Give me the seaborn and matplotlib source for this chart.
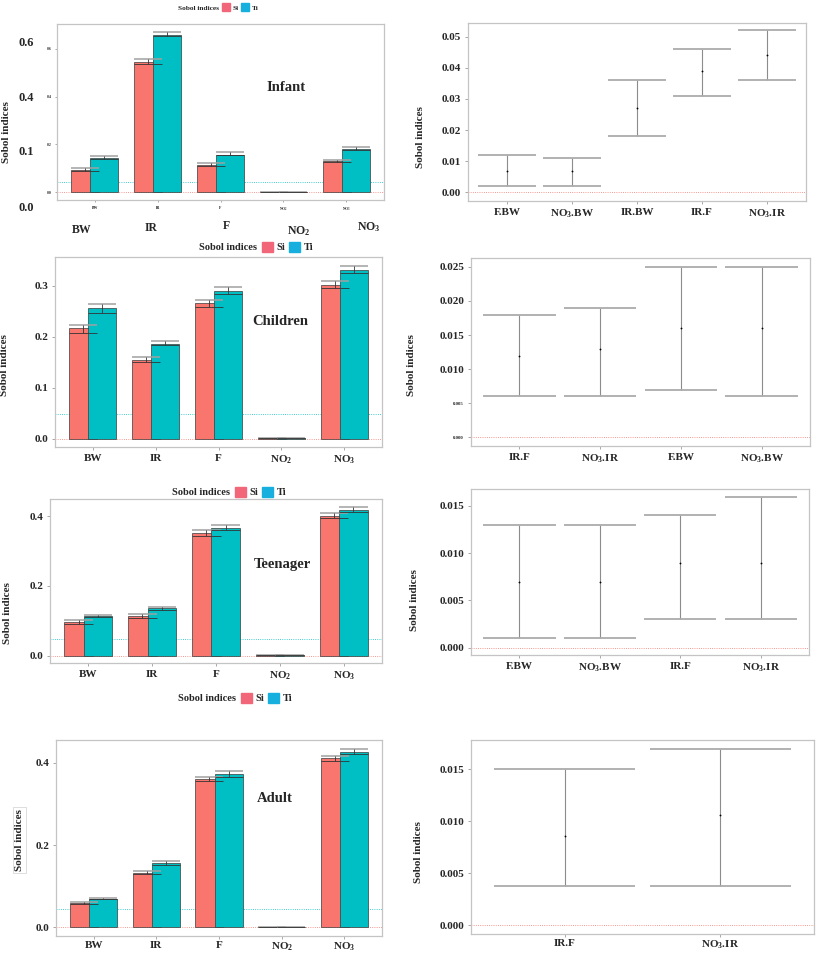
import numpy as np
import pandas as pd
import seaborn as sns
import matplotlib.pyplot as plt
from matplotlib.patches import Patch
import matplotlib.transforms as mtransforms

# ---- data ----
factors = ["BW", "IR", "F", "NO2", "NO3"]
factor_labels = ["BW", "IR", "F", "NO$_2$", "NO$_3$"]

infant_si = [0.092, 0.546, 0.113, 0.001, 0.130]
infant_si_lo = [0.089, 0.536, 0.110, 0.001, 0.125]
infant_si_hi = [0.099, 0.557, 0.121, 0.001, 0.136]
infant_ti = [0.141, 0.660, 0.157, 0.001, 0.180]
infant_ti_lo = [0.139, 0.654, 0.155, 0.001, 0.178]
infant_ti_hi = [0.150, 0.671, 0.167, 0.001, 0.189]

children_si = [0.216, 0.154, 0.265, 0.001, 0.302]
children_si_lo = [0.207, 0.150, 0.258, 0.001, 0.295]
children_si_hi = [0.222, 0.160, 0.271, 0.001, 0.308]
children_ti = [0.256, 0.186, 0.290, 0.001, 0.331]
children_ti_lo = [0.246, 0.183, 0.284, 0.001, 0.324]
children_ti_hi = [0.264, 0.192, 0.298, 0.001, 0.339]

teen_si = [0.096, 0.114, 0.351, 0.001, 0.401]
teen_si_lo = [0.091, 0.109, 0.344, 0.001, 0.394]
teen_si_hi = [0.102, 0.119, 0.359, 0.001, 0.408]
teen_ti = [0.113, 0.136, 0.366, 0.001, 0.418]
teen_ti_lo = [0.110, 0.132, 0.360, 0.001, 0.412]
teen_ti_hi = [0.117, 0.139, 0.374, 0.001, 0.425]

adult_si = [0.058, 0.133, 0.360, 0.001, 0.412]
adult_si_lo = [0.057, 0.130, 0.355, 0.001, 0.406]
adult_si_hi = [0.061, 0.137, 0.366, 0.001, 0.418]
adult_ti = [0.0695, 0.156, 0.373, 0.001, 0.427]
adult_ti_lo = [0.068, 0.152, 0.367, 0.001, 0.421]
adult_ti_hi = [0.071, 0.160, 0.381, 0.001, 0.434]

# dotted reference line in the bar panels
ref_lines = [0.042, 0.048, 0.049, 0.045]

# second-order indices (interaction pairs)
infant_pairs = ["F.BW", "NO$_3$.BW", "IR.BW", "IR.F", "NO$_3$.IR"]
infant_mid = [0.007, 0.007, 0.027, 0.039, 0.044]
infant_lo = [0.002, 0.002, 0.018, 0.031, 0.036]
infant_hi = [0.012, 0.011, 0.036, 0.046, 0.052]

children_pairs = ["IR.F", "NO$_3$.IR", "F.BW", "NO$_3$.BW"]
children_mid = [0.012, 0.013, 0.016, 0.016]
children_lo = [0.006, 0.006, 0.007, 0.006]
children_hi = [0.018, 0.019, 0.025, 0.025]

teen_pairs = ["F.BW", "NO$_3$.BW", "IR.F", "NO$_3$.IR"]
teen_mid = [0.007, 0.007, 0.009, 0.009]
teen_lo = [0.001, 0.001, 0.003, 0.003]
teen_hi = [0.013, 0.013, 0.014, 0.016]

adult_pairs = ["IR.F", "NO$_3$.IR"]
adult_mid = [0.0086, 0.0106]
adult_lo = [0.0038, 0.0038]
adult_hi = [0.015, 0.017]

# ---- style ----
sns.set_style("white")
plt.rcParams["font.family"] = ["Liberation Serif", "DejaVu Serif"]
plt.rcParams["font.weight"] = "bold"
plt.rcParams["axes.labelweight"] = "bold"
plt.rcParams["mathtext.fontset"] = "custom"
plt.rcParams["mathtext.rm"] = "Liberation Serif:bold"
plt.rcParams["mathtext.it"] = "Liberation Serif:bold"
plt.rcParams["mathtext.bf"] = "Liberation Serif:bold"

SI_COL, TI_COL = "#F8766D", "#00BFC4"
SI_LEG, TI_LEG = "#F2667A", "#17B0DE"
BAR_W = 0.447
W, H = 817, 955

fig = plt.figure(figsize=(W / 100, H / 100), dpi=100)


def add_axes(left, top, right, bottom):
    return fig.add_axes([left / W, 1 - bottom / H, (right - left) / W, (bottom - top) / H])


def style_axes(ax):
    for s in ax.spines.values():
        s.set_color("#c4c4c4")
        s.set_linewidth(0.9)
    ax.tick_params(axis="both", which="both", direction="out", length=2.5, width=0.6,
                   color="#9a9a9a", left=True, bottom=True, labelsize=8, pad=2.5)
    ax.set_xlabel("")


def place_ylabel(ax, px, py, **kw):
    ax.set_ylabel("Sobol indices", fontsize=8, fontweight="bold", **kw)
    ax.yaxis.set_label_coords(px / W, 1 - py / H, transform=fig.transFigure)


def legend_at(px, py, size):
    handles = [Patch(alpha=0), Patch(color=SI_LEG), Patch(color=TI_LEG)]
    fig.legend(handles, ["Sobol indices", "Si", "Ti"], ncol=3, loc="center",
               bbox_to_anchor=(px / W, 1 - py / H), frameon=False,
               prop={"size": size, "weight": "bold"}, handlelength=1.1, handleheight=1.1,
               handletextpad=0.3, columnspacing=0.4)


def bar_panel(ax, si, si_lo, si_hi, ti, ti_lo, ti_hi, ylim, ref, title, txy):
    df = pd.DataFrame({"factor": factors * 2,
                       "index": ["Si"] * len(factors) + ["Ti"] * len(factors),
                       "value": si + ti})
    sns.barplot(data=df, x="factor", y="value", hue="index", order=factors,
                hue_order=["Si", "Ti"], palette={"Si": SI_COL, "Ti": TI_COL},
                width=0.61, saturation=1, errorbar=None, legend=False,
                edgecolor="#3a3a3a", linewidth=0.5, ax=ax)
    for cont, lo, hi in zip(ax.containers, [si_lo, ti_lo], [si_hi, ti_hi]):
        for bar, l, h in zip(cont, lo, hi):
            cx = bar.get_x() + bar.get_width() / 2
            bar.set_width(BAR_W)
            bar.set_x(cx - BAR_W / 2)
            ax.hlines(h, cx - BAR_W / 2, cx + BAR_W / 2, color="#a0a0a0", lw=1.1, zorder=5)
            ax.hlines(l, cx - BAR_W / 2, cx + BAR_W / 2, color="#333333", lw=0.6, zorder=5)
            ax.vlines(cx, l, h, color="#333333", lw=0.6, zorder=5)
    ax.axhline(0, color="#F8766D", lw=0.6, ls=":", zorder=0.5)
    ax.axhline(ref, color="#00BFC4", lw=0.6, ls=":", zorder=0.5)
    ax.set_xlim(-0.6, 4.6)
    ax.set_ylim(*ylim)
    ax.set_xticks(range(len(factors)))
    ax.set_xticklabels(factor_labels)
    style_axes(ax)
    ax.text(txy[0], txy[1], title, transform=ax.transAxes, ha="center", va="center",
            fontsize=10.5, fontweight="bold")


def pair_panel(ax, pairs, mid, lo, hi, ylim, yticks, ytick_labels):
    df = pd.DataFrame({"pair": pairs, "mid": mid})
    for i in range(len(pairs)):
        ax.vlines(i, lo[i], hi[i], color="#8c8c8c", lw=0.8, zorder=1.5)
        ax.hlines([lo[i], hi[i]], i - 0.45, i + 0.45, color="#ababab", lw=1.3, zorder=1.5)
    sns.stripplot(data=df, x="pair", y="mid", order=pairs, color="black", jitter=False,
                  size=1.3, linewidth=0, ax=ax, zorder=3)
    ax.axhline(0, color="#F8766D", lw=0.6, ls=":", zorder=0.5)
    ax.set_xlim(-0.6, len(pairs) - 0.4)
    ax.set_ylim(*ylim)
    ax.set_yticks(yticks)
    ax.set_yticklabels(ytick_labels)
    style_axes(ax)


# ---- Infant ----
ax = add_axes(57, 24, 384, 200)
bar_panel(ax, infant_si, infant_si_lo, infant_si_hi, infant_ti, infant_ti_lo, infant_ti_hi,
          (-0.033, 0.704), ref_lines[0], "Infant", (0.70, 0.64))
ax.set_yticks([0.0, 0.2, 0.4, 0.6])
ax.set_yticklabels(["0.0", "0.2", "0.4", "0.6"])
ax.tick_params(labelsize=2.8, length=1.5)
# big pasted-over labels of the original figure
ytrans = mtransforms.blended_transform_factory(fig.transFigure, ax.transData)
for lab, yv in zip(["0.6", "0.4", "0.1", "0.0"], [0.625, 0.396, 0.167, -0.067]):
    ax.text(34 / W, yv, lab, transform=ytrans, ha="right", va="center", fontsize=9,
            fontweight="bold", clip_on=False)
for i, (lab, dx, yv) in enumerate(zip(factor_labels, [-0.2, -0.1, 0.1, 0.24, 0.35],
                                      [-0.158, -0.15, -0.14, -0.162, -0.147])):
    ax.text(i + dx, yv, lab, ha="center", va="center", fontsize=8.5, fontweight="bold",
            clip_on=False)
place_ylabel(ax, 11, 132)
legend_at(213, 7, 5.3)

ax = add_axes(468, 23, 806, 201)
pair_panel(ax, infant_pairs, infant_mid, infant_lo, infant_hi, (-0.0028, 0.0544),
           [0, 0.01, 0.02, 0.03, 0.04, 0.05], ["0.00", "0.01", "0.02", "0.03", "0.04", "0.05"])
place_ylabel(ax, 425, 137)

# ---- Children ----
ax = add_axes(55, 257, 382, 447)
bar_panel(ax, children_si, children_si_lo, children_si_hi, children_ti, children_ti_lo,
          children_ti_hi, (-0.0163, 0.356), ref_lines[1], "Children", (0.69, 0.66))
ax.set_yticks([0.0, 0.1, 0.2, 0.3])
ax.set_yticklabels(["0.0", "0.1", "0.2", "0.3"])
place_ylabel(ax, 9, 365)
legend_at(249, 247, 7.5)

ax = add_axes(471, 258, 810, 446)
pair_panel(ax, children_pairs, children_mid, children_lo, children_hi, (-0.00127, 0.0263),
           [0, 0.005, 0.010, 0.015, 0.020, 0.025],
           ["0.000", "0.005", "0.010", "0.015", "0.020", "0.025"])
for t in ax.get_yticklabels()[:2]:
    t.set_fontsize(3.5)
place_ylabel(ax, 416, 365)

# ---- Teenager ----
ax = add_axes(50, 499, 382, 663)
bar_panel(ax, teen_si, teen_si_lo, teen_si_hi, teen_ti, teen_ti_lo, teen_ti_hi,
          (-0.021, 0.449), ref_lines[2], "Teenager", (0.70, 0.60))
ax.set_yticks([0.0, 0.2, 0.4])
ax.set_yticklabels(["0.0", "0.2", "0.4"])
place_ylabel(ax, 12, 613)
legend_at(222, 492, 7.5)

ax = add_axes(471, 489, 809, 655)
pair_panel(ax, teen_pairs, teen_mid, teen_lo, teen_hi, (-0.00078, 0.0168),
           [0, 0.005, 0.010, 0.015], ["0.000", "0.005", "0.010", "0.015"])
place_ylabel(ax, 419, 600)

# ---- Adult ----
legend_at(228, 698, 7.5)
ax = add_axes(56, 740, 382, 936)
bar_panel(ax, adult_si, adult_si_lo, adult_si_hi, adult_ti, adult_ti_lo, adult_ti_hi,
          (-0.0216, 0.456), ref_lines[3], "Adult", (0.67, 0.70))
ax.set_yticks([0.0, 0.2, 0.4])
ax.set_yticklabels(["0.0", "0.2", "0.4"])
ax.tick_params(axis="x", pad=1)
place_ylabel(ax, 24, 840, bbox=dict(facecolor="white", edgecolor="#d8d8d8", lw=0.6, pad=1.5))

ax = add_axes(471, 740, 814, 934)
pair_panel(ax, adult_pairs, adult_mid, adult_lo, adult_hi, (-0.00086, 0.01783),
           [0, 0.005, 0.010, 0.015], ["0.000", "0.005", "0.010", "0.015"])
ax.tick_params(axis="x", pad=1)
place_ylabel(ax, 423, 852)

fig.savefig("out.png", dpi=100)
